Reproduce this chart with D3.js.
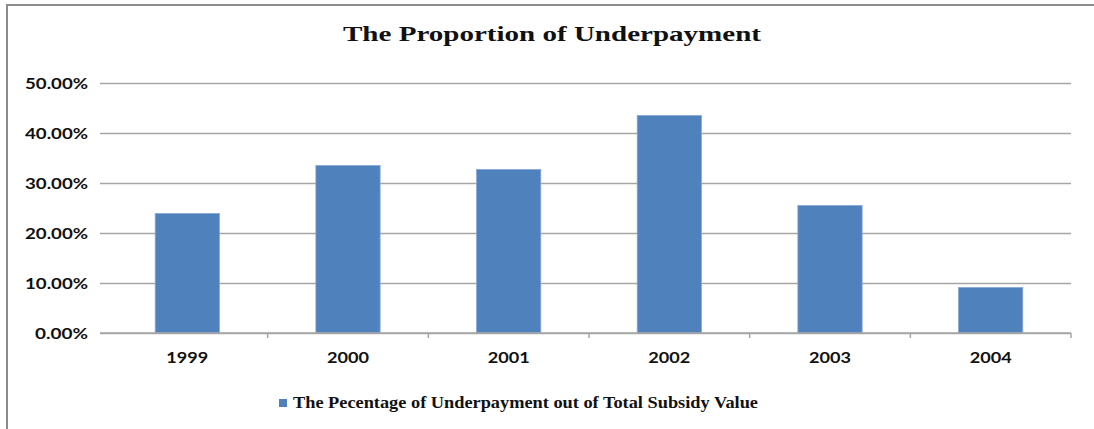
<!DOCTYPE html>
<html>
<head>
<meta charset="utf-8">
<script src="https://cdn.jsdelivr.net/npm/d3@7"></script>
<style>
  html, body { margin: 0; padding: 0; background: #fff; }
  svg { display: block; }
</style>
</head>
<body>
<div id="chart"></div>
<script>
// data
const years = ["1999", "2000", "2001", "2002", "2003", "2004"];
const underpayment = [0.239, 0.335, 0.327, 0.435, 0.255, 0.091];
const yTicks = [0, 0.1, 0.2, 0.3, 0.4, 0.5];
const chartTitle = "The Proportion of Underpayment";
const seriesName = "The Pecentage of Underpayment out of Total Subsidy Value";

const drawChart = () => {

  /*******************************/
  /*    Declare the constants    */
  /*******************************/
  const width = 1094;
  const height = 429;
  const plot = {left: 100, right: 1071, top: 83, bottom: 333};
  const barColor = "#4f81bd";
  const gridColor = "#a6a6a6";
  const labelFont = "Lato, Liberation Sans, Arial, sans-serif";

  const svg = d3.select("#chart")
    .append("svg")
      .attr("width", width)
      .attr("height", height);

  // chart frame (runs off the right and bottom edges)
  svg.append("rect")
    .attr("x", 7)
    .attr("y", 5)
    .attr("width", width + 20)
    .attr("height", height + 20)
    .attr("fill", "#fff")
    .attr("stroke", "#8c8c8c")
    .attr("stroke-width", 2);

  /*******************************/
  /*    Scales                   */
  /*******************************/
  const xScale = d3.scaleBand()
    .domain(years)
    .range([107, plot.right])
    .padding(0);

  const yScale = d3.scaleLinear()
    .domain([0, 0.5])
    .range([plot.bottom, plot.top]);

  /*******************************/
  /*    Gridlines & y labels     */
  /*******************************/
  const leftAxis = d3.axisLeft(yScale)
    .tickValues(yTicks)
    .tickFormat(d => (d * 100).toFixed(2) + "%")
    .tickSize(-(plot.right - plot.left))
    .tickPadding(12);

  svg.append("g")
      .attr("transform", `translate(${plot.left}, 0)`)
      .call(leftAxis)
      .call(g => g.select(".domain").remove())
      .call(g => g.selectAll(".tick line")
        .attr("stroke", gridColor)
        .attr("stroke-width", 1.5))
      .call(g => g.selectAll(".tick text")
        .attr("fill", "#111")
        .attr("font-family", labelFont)
        .attr("font-weight", "bold")
        .attr("font-size", 15)
        .attr("textLength", d => d === 0 ? 53 : 63)   // label width in the picture
        .attr("lengthAdjust", "spacingAndGlyphs")
        .attr("dy", "0.36em"));

  /*******************************/
  /*    Bars                     */
  /*******************************/
  const barWidth = xScale.bandwidth() * 0.4;
  svg.append("g")
    .selectAll("rect")
    .data(years)
    .join("rect")
      .attr("x", d => xScale(d) + (xScale.bandwidth() - barWidth) / 2)
      .attr("y", (d, i) => yScale(underpayment[i]))
      .attr("width", barWidth)
      .attr("height", (d, i) => yScale(0) - yScale(underpayment[i]))
      .attr("fill", barColor)
      .attr("stroke", "#86a8d6")
      .attr("stroke-width", 0.8);

  /*******************************/
  /*    X axis                   */
  /*******************************/
  // baseline
  svg.append("line")
    .attr("x1", plot.left)
    .attr("x2", plot.right)
    .attr("y1", yScale(0))
    .attr("y2", yScale(0))
    .attr("stroke", gridColor)
    .attr("stroke-width", 1.5);

  // tick marks between categories
  svg.append("g")
    .selectAll("line")
    .data(years)
    .join("line")
      .attr("x1", d => xScale(d) + xScale.bandwidth())
      .attr("x2", d => xScale(d) + xScale.bandwidth())
      .attr("y1", yScale(0))
      .attr("y2", yScale(0) + 5)
      .attr("stroke", gridColor)
      .attr("stroke-width", 1.5);

  svg.append("g")
    .selectAll("text")
    .data(years)
    .join("text")
      .attr("x", d => xScale(d) + xScale.bandwidth() / 2 - 21)
      .attr("y", 363)
      .attr("fill", "#111")
      .attr("font-family", labelFont)
      .attr("font-weight", "bold")
      .attr("font-size", 15)
      .attr("textLength", 42)
      .attr("lengthAdjust", "spacingAndGlyphs")
      .text(d => d);

  /*******************************/
  /*    Title & legend           */
  /*******************************/
  svg.append("text")
    .attr("x", 552)
    .attr("y", 41)
    .attr("text-anchor", "middle")
    .attr("font-family", "Liberation Serif, Times New Roman, serif")
    .attr("font-weight", "bold")
    .attr("font-size", 21)
    .attr("textLength", 418)
    .attr("lengthAdjust", "spacingAndGlyphs")
    .attr("fill", "#111")
    .text(chartTitle);

  const legend = svg.append("g");
  legend.append("rect")
    .attr("x", 279)
    .attr("y", 399)
    .attr("width", 8)
    .attr("height", 8)
    .attr("fill", barColor);
  legend.append("text")
    .attr("x", 293)
    .attr("y", 408)
    .attr("font-family", "Liberation Serif, Times New Roman, serif")
    .attr("font-weight", "bold")
    .attr("font-size", 16)
    .attr("textLength", 465)
    .attr("lengthAdjust", "spacingAndGlyphs")
    .attr("fill", "#111")
    .text(seriesName);
};

drawChart();
</script>
</body>
</html>
